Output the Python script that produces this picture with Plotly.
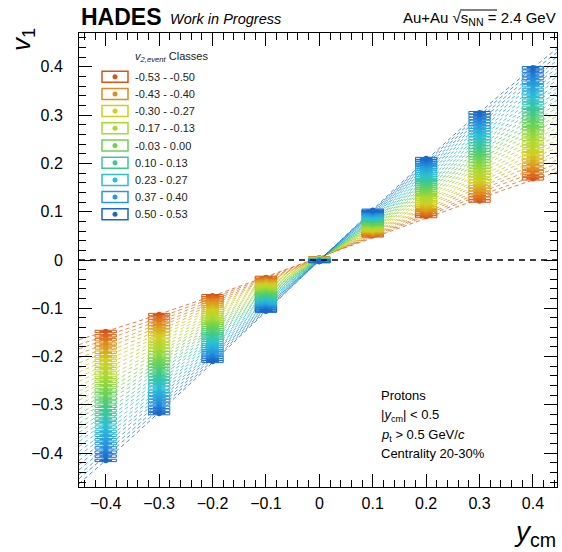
import numpy as np
import plotly.graph_objects as go
from plotly.colors import sample_colorscale

# Rapidity bin centres
y_cm = [-0.4, -0.3, -0.2, -0.1, 0.0, 0.1, 0.2, 0.3, 0.4]

# v1 per rapidity bin, one entry per v2,event class (32 classes, -0.53 ... 0.53)
v1_ym04 = [-0.148, -0.157, -0.165, -0.174, -0.182, -0.191, -0.200, -0.208,
           -0.217, -0.225, -0.234, -0.243, -0.251, -0.260, -0.269, -0.277,
           -0.286, -0.294, -0.303, -0.312, -0.320, -0.329, -0.337, -0.346,
           -0.355, -0.363, -0.372, -0.380, -0.389, -0.398, -0.406, -0.415]
v1_ym03 = [-0.113, -0.120, -0.126, -0.133, -0.139, -0.146, -0.153, -0.159,
           -0.166, -0.173, -0.179, -0.186, -0.192, -0.199, -0.206, -0.212,
           -0.219, -0.225, -0.232, -0.239, -0.245, -0.252, -0.258, -0.265,
           -0.272, -0.278, -0.285, -0.291, -0.298, -0.305, -0.311, -0.318]
v1_ym02 = [-0.074, -0.078, -0.083, -0.087, -0.092, -0.096, -0.100, -0.105,
           -0.109, -0.113, -0.118, -0.122, -0.127, -0.131, -0.135, -0.140,
           -0.144, -0.149, -0.153, -0.157, -0.162, -0.166, -0.171, -0.175,
           -0.179, -0.184, -0.188, -0.192, -0.197, -0.201, -0.206, -0.210]
v1_ym01 = [-0.036, -0.038, -0.041, -0.043, -0.045, -0.047, -0.050, -0.052,
           -0.054, -0.056, -0.059, -0.061, -0.063, -0.065, -0.068, -0.070,
           -0.072, -0.074, -0.077, -0.079, -0.081, -0.083, -0.086, -0.088,
           -0.090, -0.092, -0.095, -0.097, -0.099, -0.101, -0.104, -0.106]
v1_y00 = [0.004, 0.004, 0.004, 0.003, 0.003, 0.003, 0.003, 0.002,
          0.002, 0.002, 0.002, 0.002, 0.001, 0.001, 0.001, 0.001,
          0.000, 0.000, 0.000, 0.000, -0.001, -0.001, -0.001, -0.001,
          -0.001, -0.002, -0.002, -0.002, -0.002, -0.003, -0.003, -0.003]
v1_yp01 = [0.050, 0.052, 0.053, 0.055, 0.057, 0.059, 0.060, 0.062,
           0.064, 0.065, 0.067, 0.069, 0.071, 0.072, 0.074, 0.076,
           0.077, 0.079, 0.081, 0.082, 0.084, 0.086, 0.088, 0.089,
           0.091, 0.093, 0.094, 0.096, 0.098, 0.100, 0.101, 0.103]
v1_yp02 = [0.090, 0.094, 0.098, 0.102, 0.105, 0.109, 0.113, 0.117,
           0.121, 0.125, 0.129, 0.133, 0.136, 0.140, 0.144, 0.148,
           0.152, 0.156, 0.160, 0.164, 0.167, 0.171, 0.175, 0.179,
           0.183, 0.187, 0.191, 0.195, 0.198, 0.202, 0.206, 0.210]
v1_yp03 = [0.122, 0.128, 0.134, 0.140, 0.146, 0.152, 0.157, 0.163,
           0.169, 0.175, 0.181, 0.187, 0.193, 0.199, 0.205, 0.211,
           0.216, 0.222, 0.228, 0.234, 0.240, 0.246, 0.252, 0.258,
           0.264, 0.270, 0.275, 0.281, 0.287, 0.293, 0.299, 0.305]
v1_yp04 = [0.168, 0.175, 0.183, 0.190, 0.198, 0.205, 0.213, 0.220,
           0.227, 0.235, 0.242, 0.250, 0.257, 0.265, 0.272, 0.279,
           0.287, 0.294, 0.302, 0.309, 0.316, 0.324, 0.331, 0.339,
           0.346, 0.353, 0.361, 0.368, 0.376, 0.383, 0.391, 0.398]

# Uncertainties: statistical (bars) and systematic (boxes)
stat_err = 0.003
sys_err_v1 = 0.0025
sys_half_width_y = 0.02

# Classes listed in the legend
legend_classes = [0, 3, 7, 11, 15, 19, 23, 27, 31]
legend_labels = ["-0.53 - -0.50", "-0.43 - -0.40", "-0.30 - -0.27",
                 "-0.17 - -0.13", "-0.03 - 0.00", "0.10 - 0.13",
                 "0.23 - 0.27", "0.37 - 0.40", "0.50 - 0.53"]

PALETTE = [[0.00, "rgb(217,84,24)"], [0.10, "rgb(222,142,30)"],
           [0.23, "rgb(208,208,32)"], [0.36, "rgb(168,216,52)"],
           [0.48, "rgb(108,210,82)"], [0.61, "rgb(62,200,142)"],
           [0.74, "rgb(42,192,212)"], [0.87, "rgb(40,152,222)"],
           [1.00, "rgb(26,104,200)"]]

FONT = "Liberation Sans, Arial, Helvetica, sans-serif"
W, H = 562, 552
L, R, T, B = 79, 5, 33, 65
PW, PH = W - L - R, H - T - B

v1 = np.array([v1_ym04, v1_ym03, v1_ym02, v1_ym01, v1_y00,
               v1_yp01, v1_yp02, v1_yp03, v1_yp04]).T
x = np.array(y_cm)
n_cls = v1.shape[0]
colors = sample_colorscale(PALETTE, [i / (n_cls - 1) for i in range(n_cls)])

fig = go.Figure()
x_fit = np.linspace(-0.45, 0.45, 60)

# Odd-polynomial style fits through each class
for i in range(n_cls):
    coef = np.polyfit(x, v1[i], 3)
    fig.add_trace(go.Scatter(
        x=x_fit, y=np.polyval(coef, x_fit), mode="lines",
        line=dict(color=colors[i], width=1, dash="4px,3px"),
        opacity=0.75, showlegend=False, hoverinfo="skip"))

# Systematic boxes and data points
for i in range(n_cls):
    bx, by = [], []
    for xv, yv in zip(x, v1[i]):
        x0, x1 = xv - sys_half_width_y, xv + sys_half_width_y
        y0, y1 = yv - sys_err_v1, yv + sys_err_v1
        bx += [x0, x1, x1, x0, x0, None]
        by += [y0, y0, y1, y1, y0, None]
    fig.add_trace(go.Scatter(
        x=bx, y=by, mode="lines", line=dict(color=colors[i], width=1),
        showlegend=False, hoverinfo="skip"))
    fig.add_trace(go.Scatter(
        x=x, y=v1[i], mode="markers",
        marker=dict(color=colors[i], size=5.5, symbol="circle"),
        error_y=dict(type="constant", value=stat_err, color=colors[i],
                     thickness=1.2, width=0),
        error_x=dict(type="constant", value=sys_half_width_y * 0.6, color=colors[i],
                     thickness=1.5, width=0),
        showlegend=False))


def paper(px, py):
    return (px - L) / PW, 1 - (py - T) / PH


shapes = []
annotations = []

# Zero line
shapes.append(dict(type="line", xref="paper", yref="y", x0=0, x1=1, y0=0, y1=0,
                   line=dict(color="black", width=1.5, dash="6px,5px"), layer="above"))

# Legend drawn as box + dot symbols
lx, ly0, ldy = 115, 76.7, 17.2
for k, (ci, lab) in enumerate(zip(legend_classes, legend_labels)):
    xa, ya = paper(lx, ly0 + k * ldy)
    c = colors[ci]
    shapes.append(dict(type="rect", xref="paper", yref="paper",
                       xsizemode="pixel", ysizemode="pixel", xanchor=xa, yanchor=ya,
                       x0=-13, x1=13, y0=-5.5, y1=5.5,
                       line=dict(color=c, width=1.5), fillcolor="white"))
    shapes.append(dict(type="circle", xref="paper", yref="paper",
                       xsizemode="pixel", ysizemode="pixel", xanchor=xa, yanchor=ya,
                       x0=-2.5, x1=2.5, y0=-2.5, y1=2.5,
                       line=dict(color=c, width=0), fillcolor=c))
    tx, ty = paper(133, ly0 + k * ldy)
    annotations.append(dict(x=tx, y=ty, xref="paper", yref="paper", text=lab,
                            showarrow=False, xanchor="left", yanchor="middle",
                            font=dict(family=FONT, size=11, color="#222")))

tx, ty = paper(133, 57)
annotations.append(dict(x=tx, y=ty, xref="paper", yref="paper",
                        text="<i>v</i><sub><i>2,event</i></sub> Classes",
                        showarrow=False, xanchor="left", yanchor="middle",
                        font=dict(family=FONT, size=11, color="#222")))

# Header texts
tx, ty = paper(79, 17)
annotations.append(dict(x=tx, y=ty, xref="paper", yref="paper",
                        text="<b>HADES</b>", showarrow=False,
                        xanchor="left", yanchor="middle",
                        font=dict(family=FONT, size=23, color="black")))
tx, ty = paper(168, 19)
annotations.append(dict(x=tx, y=ty, xref="paper", yref="paper",
                        text="<i>Work in Progress</i>", showarrow=False,
                        xanchor="left", yanchor="middle",
                        font=dict(family=FONT, size=14.5, color="black")))
tx, ty = paper(558, 19)
annotations.append(dict(x=tx, y=ty, xref="paper", yref="paper",
                        text="Au+Au √s<sub>NN</sub> = 2.4 GeV", showarrow=False,
                        xanchor="right", yanchor="middle",
                        font=dict(family=FONT, size=15, color="black")))
# overline of the square root
ox0, oy = paper(460, 10)
ox1, _ = paper(497, 10)
shapes.append(dict(type="line", xref="paper", yref="paper", x0=ox0, x1=ox1,
                   y0=oy, y1=oy, line=dict(color="black", width=1)))

# Selection info
info = ["Protons", "|<i>y</i><sub>cm</sub>| < 0.5",
        "<i>p</i><sub>t</sub> > 0.5 GeV/<i>c</i>", "Centrality 20-30%"]
for k, (txt, py) in enumerate(zip(info, [395, 415, 435, 453])):
    tx, ty = paper(379, py)
    annotations.append(dict(x=tx, y=ty, xref="paper", yref="paper", text=txt,
                            showarrow=False, xanchor="left", yanchor="middle",
                            font=dict(family=FONT, size=13, color="black")))

# Axis titles
tx, ty = paper(22, 40)
annotations.append(dict(x=tx, y=ty, xref="paper", yref="paper",
                        text="<i>v</i><sub>1</sub>", showarrow=False, textangle=-90,
                        xanchor="center", yanchor="middle",
                        font=dict(family=FONT, size=26, color="black")))
tx, ty = paper(558, 533)
annotations.append(dict(x=tx, y=ty, xref="paper", yref="paper",
                        text="<i>y</i><sub>cm</sub>", showarrow=False,
                        xanchor="right", yanchor="middle",
                        font=dict(family=FONT, size=28, color="black")))

axis_common = dict(showgrid=False, zeroline=False, showline=True, linecolor="black",
                   linewidth=1, mirror="allticks", ticks="inside", ticklen=13,
                   tickwidth=1, tickcolor="black", dtick=0.1,
                   tickfont=dict(family=FONT, size=16, color="black"),
                   minor=dict(ticks="inside", ticklen=7, tickcolor="black",
                              dtick=0.02, showgrid=False))

fig.update_layout(
    width=W, height=H, margin=dict(l=L, r=R, t=T, b=B),
    paper_bgcolor="white", plot_bgcolor="white", showlegend=False,
    xaxis=dict(range=[-0.45, 0.445], tick0=0, ticklabelstandoff=2, **axis_common),
    yaxis=dict(range=[-0.47, 0.47], tick0=0, ticklabelstandoff=12, **axis_common),
    shapes=shapes, annotations=annotations,
)

fig.write_html("out.html")
